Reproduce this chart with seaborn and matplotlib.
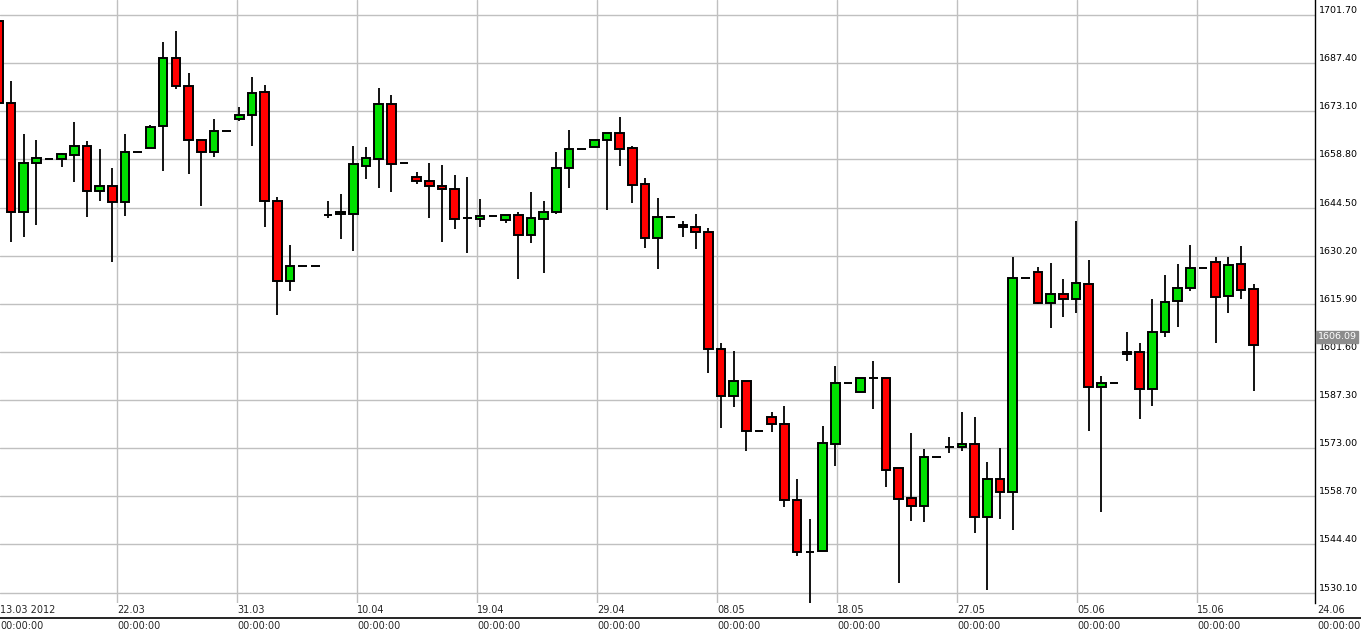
import numpy as np
import pandas as pd
import matplotlib
matplotlib.use("Agg")
import matplotlib.pyplot as plt
import seaborn as sns
from matplotlib.lines import Line2D

# OHLC values, one entry per candle (index -1 .. 98)
opens = [1700.0, 1675.6, 1643.2, 1657.7, 1658.8, 1658.8, 1660.1, 1662.8, 1649.4, 1650.9, 1646.2,
         1661.0, 1662.2, 1668.7, 1688.9, 1680.6, 1664.6, 1661.0, 1667.2, 1670.8, 1672.0,
         1678.8, 1646.5, 1622.7, 1627.1, 1627.1, 1642.3, 1642.6, 1642.6, 1656.8, 1658.8,
         1675.3, 1657.7, 1653.6, 1652.4, 1650.9, 1650.0, 1641.4, 1641.1, 1642.0, 1640.8,
         1642.3, 1636.4, 1641.1, 1643.2, 1656.2, 1661.9, 1662.5, 1664.6, 1666.7, 1662.2,
         1651.5, 1635.5, 1641.7, 1639.3, 1638.7, 1637.3, 1602.5, 1588.5, 1592.9, 1578.1,
         1582.3, 1580.2, 1557.6, 1542.2, 1542.5, 1574.2, 1592.4, 1589.7, 1593.9, 1593.9,
         1567.1, 1558.2, 1555.8, 1570.3, 1573.3, 1573.3, 1574.2, 1552.6, 1563.9, 1560.0,
         1623.6, 1625.4, 1616.2, 1618.8, 1617.3, 1621.8, 1591.2, 1592.4, 1601.6, 1601.6,
         1590.6, 1607.5, 1616.8, 1620.6, 1626.6, 1628.3, 1618.2, 1627.7, 1620.3]
closes = [1675.6, 1643.2, 1657.7, 1659.2, 1658.8, 1660.4, 1662.8, 1649.4, 1650.9, 1646.2, 1661.0,
          1661.0, 1668.4, 1688.9, 1680.6, 1664.6, 1661.0, 1667.2, 1667.2, 1672.0, 1678.5,
          1646.5, 1622.7, 1627.1, 1627.1, 1627.1, 1642.3, 1643.2, 1657.4, 1659.2, 1675.3,
          1657.4, 1657.7, 1652.4, 1650.9, 1650.0, 1641.1, 1641.4, 1642.0, 1642.0, 1642.3,
          1636.4, 1641.4, 1643.2, 1656.2, 1661.9, 1661.9, 1664.6, 1666.7, 1661.9, 1651.2,
          1635.5, 1641.7, 1641.7, 1638.7, 1637.3, 1602.5, 1588.5, 1592.9, 1578.1, 1578.1,
          1580.2, 1557.6, 1542.2, 1542.2, 1574.5, 1592.4, 1592.4, 1593.9, 1593.9, 1566.5,
          1557.9, 1555.8, 1570.3, 1570.3, 1573.3, 1574.2, 1552.6, 1563.9, 1560.0, 1623.6,
          1623.6, 1616.2, 1618.8, 1617.3, 1622.1, 1591.2, 1592.4, 1592.4, 1601.0, 1590.6,
          1607.5, 1616.5, 1620.6, 1626.6, 1626.6, 1617.9, 1627.4, 1620.0, 1603.7]
highs = [1701.5, 1682.1, 1666.4, 1664.6, 1658.8, 1660.7, 1669.9, 1664.3, 1661.9, 1656.3, 1666.4,
         1661.0, 1669.0, 1693.7, 1697.0, 1684.5, 1664.6, 1670.8, 1667.2, 1674.4, 1683.3,
         1680.9, 1647.6, 1633.4, 1627.1, 1627.1, 1646.5, 1648.5, 1662.8, 1662.5, 1680.0,
         1677.9, 1657.7, 1655.1, 1657.7, 1657.1, 1654.2, 1653.6, 1647.0, 1642.0, 1642.3,
         1643.2, 1649.1, 1646.5, 1661.0, 1667.5, 1661.9, 1664.6, 1666.7, 1671.4, 1662.8,
         1653.3, 1647.3, 1641.7, 1640.5, 1642.6, 1638.4, 1604.3, 1601.9, 1592.9, 1578.1,
         1583.8, 1585.6, 1563.9, 1552.0, 1579.6, 1597.4, 1592.4, 1593.9, 1598.9, 1593.9,
         1567.1, 1577.5, 1572.7, 1570.3, 1576.3, 1583.8, 1582.3, 1568.9, 1573.0, 1629.9,
         1623.6, 1626.9, 1628.0, 1623.3, 1640.5, 1628.9, 1594.5, 1592.4, 1607.5, 1604.3,
         1617.3, 1624.5, 1627.7, 1633.4, 1626.6, 1629.9, 1629.9, 1633.1, 1621.8]
lows = [1672.0, 1634.3, 1635.8, 1639.3, 1658.8, 1656.5, 1652.1, 1641.7, 1646.5, 1628.3, 1642.0,
        1661.0, 1662.2, 1655.4, 1679.7, 1654.5, 1645.0, 1659.5, 1667.2, 1670.2, 1662.8,
        1638.7, 1612.6, 1619.7, 1627.1, 1627.1, 1641.4, 1635.2, 1631.6, 1653.0, 1650.3,
        1649.1, 1657.7, 1651.5, 1641.4, 1634.3, 1638.1, 1631.0, 1638.7, 1642.0, 1639.9,
        1623.3, 1634.0, 1625.1, 1642.6, 1650.3, 1661.9, 1662.5, 1643.8, 1656.8, 1645.9,
        1632.5, 1626.3, 1641.7, 1635.8, 1632.2, 1595.4, 1579.0, 1585.3, 1572.2, 1578.1,
        1577.8, 1555.6, 1541.0, 1526.5, 1542.5, 1567.7, 1592.4, 1589.7, 1584.7, 1561.5,
        1533.0, 1551.4, 1551.1, 1570.3, 1571.6, 1572.2, 1547.8, 1530.9, 1552.0, 1548.7,
        1623.6, 1615.9, 1608.7, 1612.0, 1613.2, 1578.1, 1554.1, 1592.4, 1598.9, 1581.7,
        1585.6, 1606.0, 1609.0, 1619.7, 1626.6, 1604.3, 1613.2, 1617.3, 1590.0]

date_labels = ["13.03 2012", "22.03", "31.03", "10.04", "19.04", "29.04", "08.05",
               "18.05", "27.05", "05.06", "15.06", "24.06"]
price_ticks = [1701.70, 1687.40, 1673.10, 1658.80, 1644.50, 1630.20, 1615.90,
               1601.60, 1587.30, 1573.00, 1558.70, 1544.40, 1530.10]
last_price = 1606.09

df = pd.DataFrame({"open": opens, "high": highs, "low": lows, "close": closes})
df["x"] = np.arange(len(df)) - 1

sns.set_theme(style="white")
plt.rcParams["font.family"] = ["DejaVu Sans"]

W, H = 1361, 635
fig = plt.figure(figsize=(W / 100, H / 100), dpi=100)
ax = fig.add_axes([0, 1 - 603 / H, 1315 / W, 603 / H])

step = 12.68
x0 = -11 / step
x1 = (1315 - 11) / step
ax.set_xlim(x0, x1)
# y: price 1701.7 at pixel 15, 14.3 per 48.13 px
ppx = 14.3 / 48.13
ax.set_ylim(1701.7 - (603 - 15) * ppx, 1701.7 + 15 * ppx)

grid_x = [(117 + 120 * k - 11) / step for k in range(10)]
for gx in grid_x:
    ax.axvline(gx, color="#c0c0c0", lw=1, zorder=0)
for p in price_ticks:
    ax.axhline(p, color="#c0c0c0", lw=1, zorder=0)

up = df["close"] >= df["open"]
colors = np.where(up, "#00e000", "#ff0000")
ax.vlines(df["x"], df["low"], df["high"], color="black", lw=1.3, zorder=2)
bottom = np.minimum(df["open"], df["close"])
height = np.maximum(np.abs(df["close"] - df["open"]), 0.05)
ax.bar(df["x"], height, bottom=bottom, width=0.68, color=colors,
       edgecolor="black", linewidth=1.4, zorder=3)

for s in ["top", "left", "bottom"]:
    ax.spines[s].set_visible(False)
ax.spines["right"].set_color("black")
ax.spines["right"].set_linewidth(1)
ax.set_xticks([])
ax.yaxis.tick_right()
ax.set_yticks(price_ticks)
ax.set_yticklabels([f"{p:.2f}" for p in price_ticks], fontsize=6.8, color="black")
ax.tick_params(axis="y", length=0, pad=3)
for t in ax.get_yticklabels():
    t.set_y(t.get_position()[1])
    t.set_va("bottom")

ax.text(1.002, last_price, f"{last_price:.2f}", transform=ax.get_yaxis_transform(),
        fontsize=6.8, color="white", va="center", ha="left",
        bbox=dict(boxstyle="square,pad=0.15", fc="#8c8c8c", ec="#8c8c8c"), zorder=5)

label_x = [x0] + grid_x + [(1317 - 11) / step]
for lx, lab in zip(label_x, date_labels):
    ax.text(lx, -0.003, lab, transform=ax.get_xaxis_transform(), ha="left", va="top",
            fontsize=7, clip_on=False)
    ax.text(lx, -0.030, "00:00:00", transform=ax.get_xaxis_transform(), ha="left", va="top",
            fontsize=7, clip_on=False)

fig.add_artist(Line2D([0, 1], [1 - 618 / H, 1 - 618 / H], color="black", lw=1.2,
                      transform=fig.transFigure))

fig.savefig("out.png", dpi=100, facecolor="white")
